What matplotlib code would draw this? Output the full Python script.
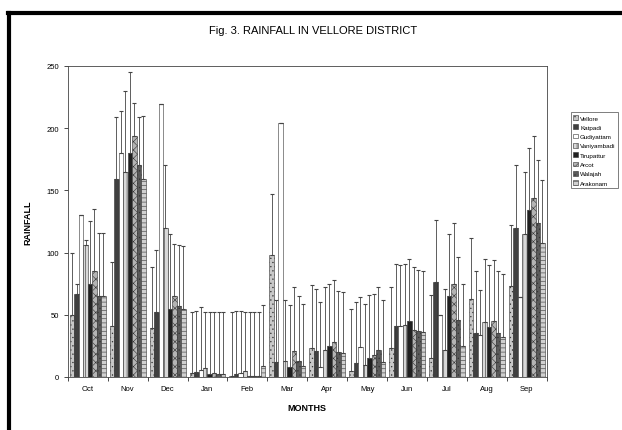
import numpy as np
import matplotlib
matplotlib.use("Agg")
import matplotlib.pyplot as plt

months = ["Oct", "Nov", "Dec", "Jan", "Feb", "Mar", "Apr", "May", "Jun", "Jul", "Aug", "Sep"]
stations = ["Vellore", "Katpadi", "Gudiyattam", "Vaniyambadi", "Tirupattur", "Arcot", "Walajah", "Arakonam"]

# mean rainfall per station (rows) and month (columns)
vellore     = [50, 41, 39, 3, 1, 98, 23, 5, 23, 15, 63, 73]
katpadi     = [67, 159, 52, 4, 2, 12, 21, 11, 41, 76, 35, 120]
gudiyattam  = [130, 180, 219, 6, 3, 204, 8, 24, 41, 50, 34, 64]
vaniyambadi = [106, 165, 120, 7, 5, 13, 22, 10, 42, 22, 44, 115]
tirupattur  = [75, 180, 55, 2, 1, 8, 25, 15, 45, 65, 40, 134]
arcot       = [85, 194, 65, 3, 1, 21, 28, 18, 38, 75, 45, 144]
walajah     = [65, 170, 57, 2, 1, 13, 20, 22, 37, 46, 35, 124]
arakonam    = [65, 159, 55, 2, 9, 9, 19, 12, 36, 25, 32, 108]

# top of the error bar for each station / month
vellore_hi     = [100, 92, 88, 52, 52, 147, 74, 55, 72, 66, 112, 122]
katpadi_hi     = [75, 209, 102, 53, 53, 62, 71, 60, 91, 126, 85, 170]
gudiyattam_hi  = [130, 214, 219, 56, 53, 204, 60, 64, 90, 50, 70, 64]
vaniyambadi_hi = [110, 230, 170, 52, 52, 62, 72, 59, 91, 71, 95, 165]
tirupattur_hi  = [125, 245, 115, 52, 52, 58, 75, 66, 95, 115, 90, 184]
arcot_hi       = [135, 220, 107, 52, 52, 72, 78, 67, 88, 124, 94, 194]
walajah_hi     = [116, 209, 106, 52, 52, 65, 69, 72, 86, 96, 85, 174]
arakonam_hi    = [116, 210, 105, 52, 58, 59, 68, 62, 85, 75, 83, 158]

means = [vellore, katpadi, gudiyattam, vaniyambadi, tirupattur, arcot, walajah, arakonam]
highs = [vellore_hi, katpadi_hi, gudiyattam_hi, vaniyambadi_hi, tirupattur_hi, arcot_hi, walajah_hi, arakonam_hi]

styles = [
    ("#c8c8c8", "...."),
    ("#404040", "||"),
    ("#ffffff", ""),
    ("#d8d8d8", "||||"),
    ("#202020", ""),
    ("#b4b4b4", "xxxx"),
    ("#5a5a5a", "...."),
    ("#d0d0d0", "----"),
]

plt.rcParams['hatch.linewidth'] = 0.4
plt.rcParams['font.family'] = ['Liberation Sans', 'DejaVu Sans']

fig = plt.figure(figsize=(6.22, 4.31), dpi=100)
ax = fig.add_axes([0.109, 0.123, 0.770, 0.722])

x = np.arange(len(months))
n = len(stations)
w = 0.9 / n
for i in range(n):
    vals = np.array(means[i])
    up = np.array(highs[i]) - vals
    up = np.clip(up, 0, None)
    fc, hatch = styles[i]
    pos = x - 0.45 + w * (i + 0.5)
    ax.bar(pos, vals, w, color=fc, edgecolor="#333333", linewidth=0.4,
           hatch=hatch, label=stations[i])
    ax.errorbar(pos, vals, yerr=[np.zeros_like(up), up], fmt="none",
                ecolor="#444444", elinewidth=0.6, capsize=1.5, capthick=0.8)

ax.set_xlim(-0.5, len(months) - 0.5)
ax.set_ylim(0, 250)
ax.set_yticks(np.arange(0, 251, 50))
ax.set_xticks(x)
ax.set_xticklabels(months)
ax.set_xticks(np.arange(-0.5, len(months), 1), minor=True)
ax.tick_params(axis="x", which="major", length=0, labelsize=5.5, pad=6)
ax.tick_params(axis="x", which="minor", length=3, width=0.5)
ax.tick_params(axis="y", labelsize=5.5, length=3, width=0.5)
for s in ax.spines.values():
    s.set_linewidth(0.6)
    s.set_color("#444444")

ax.set_xlabel("MONTHS", fontsize=6.5, fontweight="bold", labelpad=8)
ax.set_ylabel("RAINFALL", fontsize=6.5, fontweight="bold", labelpad=10)
fig.text(0.503, 0.928, "Fig. 3. RAINFALL IN VELLORE DISTRICT", ha="center",
         va="center", fontsize=8)

leg = ax.legend(loc="upper left", bbox_to_anchor=(1.05, 0.85), fontsize=4.5,
                frameon=True, fancybox=False, edgecolor="#444444",
                handlelength=0.8, handleheight=0.8, handletextpad=0.3,
                borderpad=0.4, labelspacing=0.6, borderaxespad=0)
leg.get_frame().set_linewidth(0.6)

# scanned page border
fig.add_artist(plt.Line2D([0.015, 0.015], [0, 0.968], color="black", linewidth=3, transform=fig.transFigure))
fig.add_artist(plt.Line2D([0.013, 1], [0.968, 0.968], color="black", linewidth=3, transform=fig.transFigure))

fig.savefig("out.png", dpi=100)
